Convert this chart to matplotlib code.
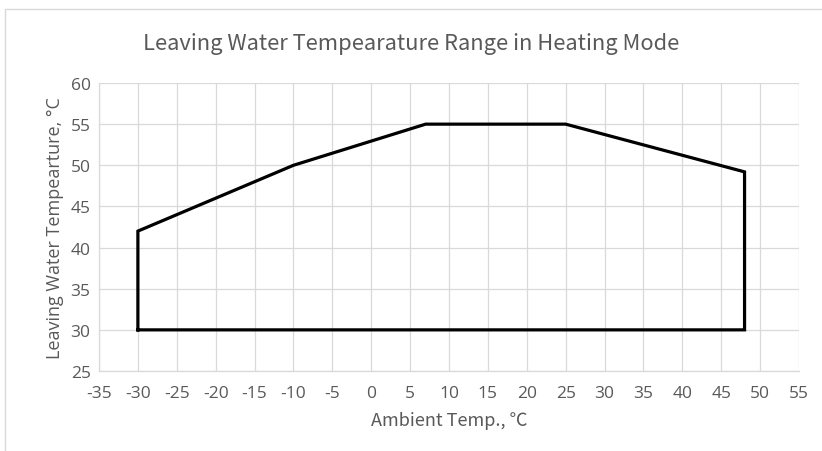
import matplotlib
matplotlib.use("Agg")
import matplotlib.pyplot as plt
from matplotlib.patches import Rectangle

plt.rcParams["axes.unicode_minus"] = False

# envelope of the operating range
ambient = [-30, -30, -10, 7, 25, 48, 48, -30]
leaving = [30, 42, 50, 55, 55, 49.2, 30, 30]

x_ticks = list(range(-35, 60, 5))
y_ticks = list(range(25, 65, 5))

title = "Leaving Water Tempearature Range in Heating Mode"
x_label = "Ambient Temp., \u2103"
y_label = "Leaving Water Tempearture, \u00b0C"

grey = "#595959"
grid = "#d9d9d9"

fig = plt.figure(figsize=(8.22, 4.52), dpi=100)
fig.patches.append(Rectangle((5 / 822, -0.1), 1.2, 1 - 10 / 452 + 0.1,
                             transform=fig.transFigure, fill=False,
                             edgecolor="#d9d9d9", linewidth=1))

ax = fig.add_axes([99 / 822, 1 - 372 / 452, 700 / 822, 288 / 452])
ax.plot(ambient, leaving, color="black", linewidth=2.3, solid_joinstyle="miter",
        zorder=3)

ax.set_xlim(-35, 55)
ax.set_ylim(25, 60)
ax.set_xticks(x_ticks)
ax.set_yticks(y_ticks)
ax.grid(True, color=grid, linewidth=0.9)
ax.tick_params(length=0, colors=grey, labelsize=12.5)
ax.tick_params(axis="x", pad=10)
ax.tick_params(axis="y", pad=6)
for s in ["top", "right"]:
    ax.spines[s].set_visible(False)
for s in ["left", "bottom"]:
    ax.spines[s].set_color(grid)
    ax.spines[s].set_linewidth(0.9)

for lab in ax.get_xticklabels() + ax.get_yticklabels():
    lab.set_family(["Open Sans", "DejaVu Sans"])

ax.set_xlabel(x_label, color=grey, fontsize=13,
              family=["Noto Sans CJK JP", "DejaVu Sans"], labelpad=7)
ax.set_ylabel(y_label, color=grey, fontsize=13,
              family=["Open Sans", "DejaVu Sans"], labelpad=5)
fig.text(0.5, 1 - 44 / 452, title, ha="center", va="center", color=grey,
         fontsize=15.8, family=["Noto Sans CJK JP", "DejaVu Sans"])

fig.savefig("out.png", dpi=100)
